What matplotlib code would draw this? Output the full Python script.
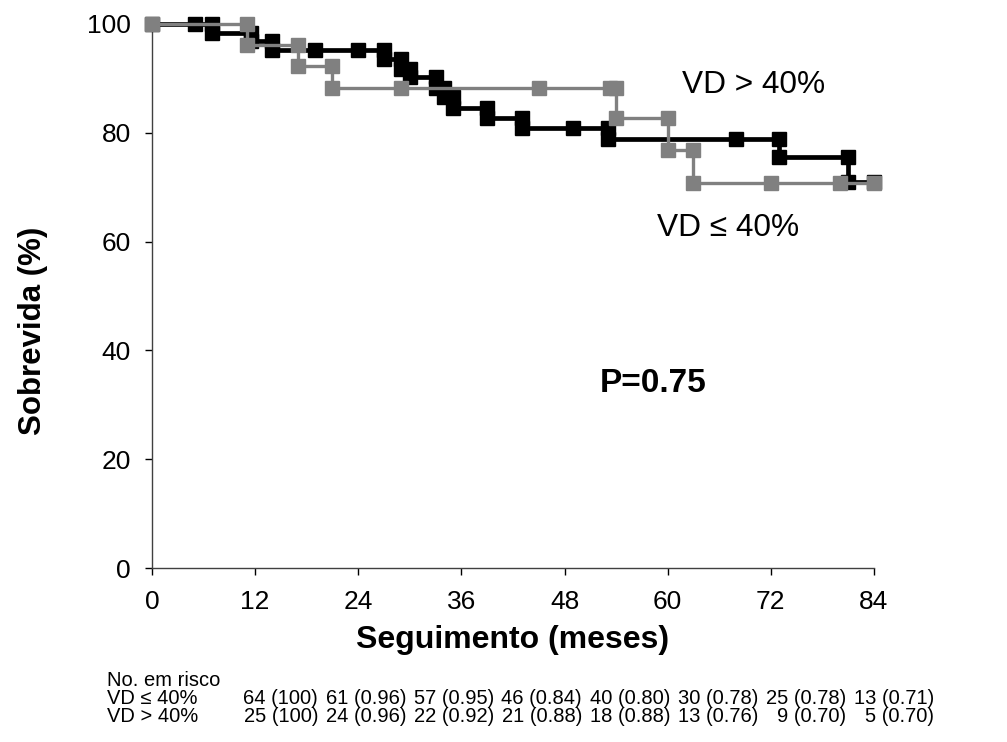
import matplotlib
matplotlib.use('Agg')
import matplotlib.pyplot as plt

plt.rcParams['font.family'] = ['Liberation Sans', 'DejaVu Sans']

# Survival curves (points as drawn, incl. both ends of every step)
t_low = [0, 5, 7, 7, 11.5, 11.5, 14, 14, 19, 24, 27, 27, 29, 29, 30, 30, 33, 33, 34, 34,
         35, 35, 39, 39, 43, 43, 49, 53, 53, 68, 73, 73, 81, 81, 84]
s_low = [100, 100, 100, 98.4, 98.4, 96.9, 96.9, 95.3, 95.3, 95.3, 95.3, 93.6, 93.6, 91.8, 91.8, 90.2,
         90.2, 88.3, 88.3, 86.5, 86.5, 84.6, 84.6, 82.8, 82.8, 80.9, 80.9, 80.9, 78.8, 78.8, 78.8,
         75.6, 75.6, 71.0, 71.0]

t_high = [0, 11, 11, 17, 17, 21, 21, 29, 45, 53.3, 54, 54, 60, 60, 63, 63, 72, 80, 84]
s_high = [100, 100, 96.1, 96.1, 92.2, 92.2, 88.2, 88.2, 88.2, 88.2, 88.2, 82.7, 82.7, 76.8, 76.8,
          70.7, 70.7, 70.7, 70.7]

# Numbers at risk table
risk_title = 'No. em risco'
group_names = ['VD \u2264 40%', 'VD > 40%']
risk_low = ['64 (100)', '61 (0.96)', '57 (0.95)', '46 (0.84)', '40 (0.80)', '30 (0.78)', '25 (0.78)', '13 (0.71)']
risk_high = ['25 (100)', '24 (0.96)', '22 (0.92)', '21 (0.88)', '18 (0.88)', '13 (0.76)', '9 (0.70)', '5 (0.70)']

xticks = [0, 12, 24, 36, 48, 60, 72, 84]
yticks = [0, 20, 40, 60, 80, 100]

fig = plt.figure(figsize=(10.07, 7.42), dpi=100)
ax = fig.add_axes([0.1509, 0.2345, 0.7170, 0.7332])

ax.plot(t_low, s_low, color='black', lw=3.4, marker='s', ms=9.5, zorder=3, clip_on=False)
ax.plot(t_high, s_high, color='#808080', lw=2.4, marker='s', ms=9.5, zorder=4, clip_on=False)

ax.set_xlim(0, 84)
ax.set_ylim(0, 100)
ax.set_xticks(xticks)
ax.set_yticks(yticks)
ax.tick_params(axis='both', direction='out', length=5, width=1, labelsize=19)
ax.tick_params(axis='x', pad=11)
ax.tick_params(axis='y', pad=10)
for s in ['top', 'right']:
    ax.spines[s].set_visible(False)
for s in ['left', 'bottom']:
    ax.spines[s].set_linewidth(1)
    ax.spines[s].set_color('#404040')

ax.set_ylabel('Sobrevida (%)', fontsize=22.5, fontweight='bold')
ax.yaxis.label.set_va('center')
ax.yaxis.set_label_coords(-0.165, 0.436)
ax.set_xlabel('Seguimento (meses)', fontsize=23, fontweight='bold')
ax.xaxis.label.set_va('center')
ax.xaxis.set_label_coords(0.5, -0.132)

ax.text(70.0, 88.8, 'VD > 40%', fontsize=22.8, ha='center', va='center')
ax.text(67.0, 62.5, 'VD \u2264 40%', fontsize=22.8, ha='center', va='center')
ax.text(58.3, 34.0, 'P=0.75', fontsize=24, fontweight='bold', ha='center', va='center')

# at-risk table below the chart
fs = 14.5
fig.text(107 / 1007, 1 - 680 / 742, risk_title, fontsize=fs, ha='left', va='center')
for row, (name, vals) in enumerate(zip(group_names, [risk_low, risk_high])):
    y = 1 - (698 + 18 * row) / 742
    fig.text(107 / 1007, y, name, fontsize=fs, ha='left', va='center')
    for i, v in enumerate(vals):
        fig.text((318 + 88 * i) / 1007, y, v, fontsize=fs, ha='right', va='center')

fig.savefig('out.png', dpi=100)
